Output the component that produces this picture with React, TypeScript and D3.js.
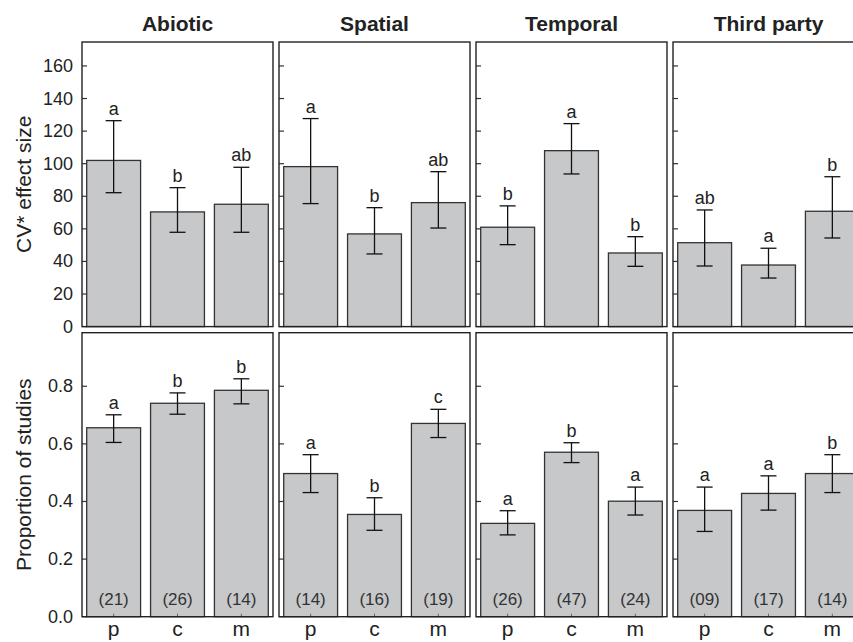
import * as d3 from 'd3';

const groups = ['Abiotic', 'Spatial', 'Temporal', 'Third party'];
const levels = ['p', 'c', 'm'];

// CV* effect size: mean, lower, upper, letter
const cvMean = [
  [102, 70.4, 75.1],
  [98.2, 56.9, 76.1],
  [61.0, 108.0, 45.2],
  [51.5, 37.8, 70.8],
];
const cvLow = [
  [82.2, 57.9, 57.9],
  [75.5, 44.6, 60.5],
  [50.3, 93.7, 37.0],
  [37.2, 29.8, 54.4],
];
const cvHigh = [
  [126.4, 85.3, 97.8],
  [127.7, 73.0, 95.1],
  [74.1, 124.6, 55.2],
  [71.6, 48.1, 92.0],
];
const cvLetters = [
  ['a', 'b', 'ab'],
  ['a', 'b', 'ab'],
  ['b', 'a', 'b'],
  ['ab', 'a', 'b'],
];

// Proportion of studies
const propMean = [
  [0.656, 0.741, 0.786],
  [0.497, 0.355, 0.671],
  [0.324, 0.571, 0.401],
  [0.369, 0.428, 0.497],
];
const propLow = [
  [0.605, 0.703, 0.739],
  [0.431, 0.300, 0.622],
  [0.284, 0.535, 0.353],
  [0.296, 0.370, 0.431],
];
const propHigh = [
  [0.701, 0.777, 0.826],
  [0.5625, 0.413, 0.720],
  [0.368, 0.604, 0.450],
  [0.450, 0.489, 0.5625],
];
const propLetters = [
  ['a', 'b', 'b'],
  ['a', 'b', 'c'],
  ['a', 'b', 'a'],
  ['a', 'a', 'b'],
];
const counts = [
  ['(21)', '(26)', '(14)'],
  ['(14)', '(16)', '(19)'],
  ['(26)', '(47)', '(24)'],
  ['(09)', '(17)', '(14)'],
];

const cvTicks = [0, 20, 40, 60, 80, 100, 120, 140, 160];
const propTicks = [0, 0.2, 0.4, 0.6, 0.8];

const W = 853, H = 642;
const FONT = '"Liberation Sans", Arial, Helvetica, sans-serif';
const BAR_FILL = '#c7c8ca';

const panelX = d3.scaleBand<string>().domain(groups).range([82, 864]).paddingInner(6 / 197);

interface RowProps {
  top: number;
  bottom: number;
  domainMax: number;
  ticks: number[];
  tickFmt: (v: number) => string;
  mean: number[][];
  low: number[][];
  high: number[][];
  letters: string[][];
  showCounts: boolean;
  label: string;
}

function Row({ top, bottom, domainMax, ticks, tickFmt, mean, low, high, letters, showCounts, label }: RowProps) {
  const y = d3.scaleLinear().domain([0, domainMax]).range([bottom, top]);
  return (
    <g>
      <text
        transform={`translate(31,${(top + bottom) / 2}) rotate(-90)`}
        textAnchor="middle"
        fontSize={21}
        fill="#222"
      >
        {label}
      </text>
      {ticks.map(t => (
        <text key={t} x={73} y={y(t)} textAnchor="end" dominantBaseline="central" fontSize={18} fill="#222">
          {tickFmt(t)}
        </text>
      ))}
      {groups.map((gname, gi) => {
        const left = panelX(gname)!;
        const pw = panelX.bandwidth();
        const x = d3.scaleBand<string>().domain(levels).range([left + 4.7, left + pw - 4.7]).paddingInner(10 / 64);
        const bw = x.bandwidth();
        return (
          <g key={gname}>
            {ticks.map(t => (
              <line key={t} x1={left} x2={left + 5} y1={y(t)} y2={y(t)} stroke="#333" strokeWidth={1.2} />
            ))}
            {levels.map((lv, li) => {
              const bx = x(lv)!;
              const cx = bx + bw / 2;
              const yTop = y(high[gi][li]);
              return (
                <g key={lv}>
                  <rect
                    x={bx}
                    y={y(mean[gi][li])}
                    width={bw}
                    height={bottom - y(mean[gi][li])}
                    fill={BAR_FILL}
                    stroke="#333"
                    strokeWidth={1.3}
                  />
                  <line x1={cx} x2={cx} y1={yTop} y2={y(low[gi][li])} stroke="#111" strokeWidth={1.3} />
                  <line x1={cx - 8} x2={cx + 8} y1={yTop} y2={yTop} stroke="#111" strokeWidth={1.3} />
                  <line
                    x1={cx - 8}
                    x2={cx + 8}
                    y1={y(low[gi][li])}
                    y2={y(low[gi][li])}
                    stroke="#111"
                    strokeWidth={1.3}
                  />
                  <text x={cx} y={yTop - 6} textAnchor="middle" fontSize={18} fill="#222">
                    {letters[gi][li]}
                  </text>
                  {showCounts && (
                    <>
                      <line x1={cx} x2={cx} y1={bottom} y2={bottom - 3} stroke="#666" strokeWidth={1} />
                      <text x={cx} y={bottom - 12} textAnchor="middle" fontSize={17} fill="#333">
                        {counts[gi][li]}
                      </text>
                    </>
                  )}
                </g>
              );
            })}
            <rect x={left} y={top} width={pw} height={bottom - top} fill="none" stroke="#222" strokeWidth={1.4} />
          </g>
        );
      })}
    </g>
  );
}

export default function App() {
  return (
    <svg
      width={W}
      height={H}
      viewBox={`0 0 ${W} ${H}`}
      style={{ position: 'absolute', left: 0, top: 0, background: '#fff', overflow: 'hidden' }}
      fontFamily={FONT}
    >
      <rect width={W} height={H} fill="#fff" />
      {groups.map(gname => (
        <text
          key={gname}
          x={panelX(gname)! + panelX.bandwidth() / 2}
          y={31}
          textAnchor="middle"
          fontSize={21}
          fontWeight="bold"
          fill="#222"
        >
          {gname}
        </text>
      ))}
      <Row
        top={42}
        bottom={326.6}
        domainMax={174.7}
        ticks={cvTicks}
        tickFmt={v => String(v)}
        mean={cvMean}
        low={cvLow}
        high={cvHigh}
        letters={cvLetters}
        showCounts={false}
        label="CV* effect size"
      />
      <Row
        top={332.7}
        bottom={616.7}
        domainMax={0.986}
        ticks={propTicks}
        tickFmt={v => v.toFixed(1)}
        mean={propMean}
        low={propLow}
        high={propHigh}
        letters={propLetters}
        showCounts={true}
        label="Proportion of studies"
      />
      {groups.map(gname => {
        const left = panelX(gname)!;
        const x = d3.scaleBand<string>().domain(levels).range([left + 4.7, left + panelX.bandwidth() - 4.7]).paddingInner(10 / 64);
        return levels.map(lv => (
          <text
            key={gname + lv}
            x={x(lv)! + x.bandwidth() / 2}
            y={636}
            textAnchor="middle"
            fontSize={21}
            fill="#222"
          >
            {lv}
          </text>
        ));
      })}
    </svg>
  );
}
